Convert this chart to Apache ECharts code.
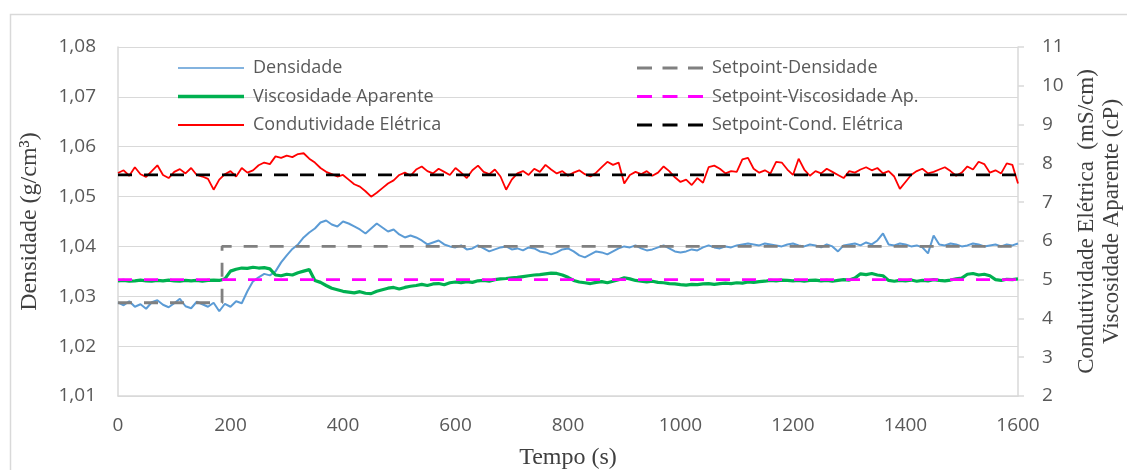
<!DOCTYPE html>
<html>
<head>
<meta charset="utf-8">
<script src="https://cdn.jsdelivr.net/npm/echarts@6/dist/echarts.min.js"></script>
<style>
html,body{margin:0;padding:0;background:#fff;width:100%;height:100%;overflow:hidden;}
#chart{width:1127px;height:470px;position:absolute;left:0;top:0;}
</style>
</head>
<body>
<div id="chart"></div>
<script>
// sampling step (s) of the recorded series
const timeStep = 10;

const densidade = [
1.0288,1.0282,1.0290,1.0279,1.0284,1.0275,1.0288,1.0292,1.0283,1.0278,
1.0286,1.0295,1.0280,1.0276,1.0289,1.0284,1.0279,1.0287,1.0270,1.0285,
1.0279,1.0290,1.0286,1.0310,1.0330,1.0338,1.0345,1.0342,1.0350,1.0368,
1.0382,1.0395,1.0404,1.0418,1.0428,1.0436,1.0448,1.0452,1.0444,1.0440,
1.0450,1.0446,1.0440,1.0434,1.0426,1.0436,1.0446,1.0438,1.0430,1.0434,
1.0424,1.0418,1.0422,1.0418,1.0412,1.0404,1.0408,1.0412,1.0404,1.0400,
1.0398,1.0402,1.0394,1.0396,1.0402,1.0396,1.0390,1.0394,1.0398,1.0400,
1.0394,1.0396,1.0392,1.0398,1.0396,1.0390,1.0388,1.0384,1.0388,1.0394,
1.0396,1.0390,1.0382,1.0378,1.0384,1.0390,1.0388,1.0384,1.0390,1.0396,
1.0400,1.0398,1.0402,1.0396,1.0392,1.0394,1.0398,1.0402,1.0396,1.0390,
1.0388,1.0390,1.0394,1.0392,1.0398,1.0402,1.0398,1.0396,1.0400,1.0398,
1.0402,1.0404,1.0406,1.0404,1.0402,1.0406,1.0404,1.0402,1.0400,1.0404,
1.0406,1.0402,1.0400,1.0404,1.0402,1.0398,1.0404,1.0400,1.0390,1.0402,
1.0404,1.0406,1.0402,1.0408,1.0404,1.0412,1.0426,1.0404,1.0402,1.0406,
1.0404,1.0400,1.0402,1.0398,1.0386,1.0422,1.0404,1.0402,1.0406,1.0404,
1.0400,1.0402,1.0406,1.0404,1.0400,1.0402,1.0404,1.0400,1.0404,1.0402,
1.0406
];

const viscosidade = [
4.97,4.98,4.96,4.97,4.99,4.97,4.96,4.98,4.97,4.99,
4.97,4.96,4.98,4.97,4.98,4.96,4.98,4.99,4.98,5.02,
5.22,5.27,5.30,5.29,5.32,5.30,5.31,5.28,5.12,5.10,
5.14,5.12,5.18,5.22,5.26,4.98,4.93,4.85,4.78,4.74,
4.70,4.68,4.66,4.69,4.65,4.64,4.70,4.74,4.78,4.80,
4.76,4.80,4.83,4.85,4.88,4.85,4.89,4.90,4.87,4.92,
4.94,4.92,4.95,4.93,4.97,4.98,4.96,5.00,5.02,5.03,
5.05,5.06,5.08,5.10,5.12,5.13,5.15,5.17,5.16,5.12,
5.06,4.98,4.94,4.92,4.90,4.93,4.95,4.92,4.96,5.00,
5.05,5.02,4.98,4.96,4.94,4.96,4.93,4.92,4.90,4.89,
4.87,4.86,4.88,4.87,4.89,4.90,4.88,4.90,4.91,4.90,
4.92,4.91,4.94,4.93,4.95,4.96,4.98,4.97,4.99,4.98,
4.97,4.98,4.96,4.98,4.99,4.97,4.98,4.96,4.98,5.00,
4.99,5.04,5.15,5.13,5.16,5.12,5.10,4.98,4.96,4.98,
4.97,4.99,4.96,4.98,4.97,5.00,4.98,4.97,4.99,5.02,
5.04,5.14,5.16,5.12,5.14,5.10,5.00,4.98,5.01,5.00,
5.02
];

const condutividade = [
7.75,7.82,7.68,7.90,7.72,7.65,7.80,7.95,7.70,7.62,
7.78,7.85,7.74,7.88,7.70,7.66,7.60,7.32,7.58,7.72,
7.80,7.66,7.88,7.76,7.82,7.95,8.02,7.98,8.18,8.14,
8.20,8.16,8.24,8.26,8.12,8.02,7.88,7.78,7.72,7.66,
7.70,7.58,7.46,7.40,7.28,7.14,7.24,7.36,7.48,7.56,
7.70,7.76,7.68,7.84,7.92,7.80,7.74,7.86,7.78,7.70,
7.88,7.76,7.62,7.82,7.94,7.78,7.72,7.84,7.66,7.32,
7.58,7.74,7.80,7.70,7.86,7.78,7.96,7.84,7.74,7.80,
7.68,7.76,7.82,7.72,7.66,7.76,7.90,8.04,7.96,8.02,
7.48,7.70,7.78,7.72,7.80,7.68,7.76,7.92,7.80,7.64,
7.52,7.58,7.44,7.62,7.50,7.90,7.94,7.86,7.74,7.80,
7.78,8.10,8.14,7.86,7.76,7.82,7.74,8.04,8.02,7.84,
7.70,8.12,7.84,7.68,7.80,7.74,7.86,7.78,7.70,7.62,
7.80,7.76,7.84,7.90,7.82,7.88,7.74,7.80,7.66,7.34,
7.52,7.70,7.80,7.86,7.74,7.78,7.84,7.90,7.80,7.68,
7.76,7.92,7.84,8.04,7.98,7.76,7.82,7.74,8.00,7.96,
7.48
];

// setpoints
const spDensTime = [0, 185, 185, 1600];
const spDensVal = [1.0287, 1.0287, 1.0400, 1.0400];
const spViscTime = [0, 1600];
const spViscVal = [5.0, 5.0];
const spCondTime = [0, 1600];
const spCondVal = [7.7, 7.7];

const xTicks = {min: 0, max: 1600, interval: 200};
const yLeft = {min: 1.01, max: 1.08, interval: 0.01};
const yRight = {min: 2, max: 11, interval: 1};

function pairs(vals) { return vals.map((v, i) => [i * timeStep, v]); }
function zip(ts, vs) { return ts.map((t, i) => [t, vs[i]]); }

const lblColor = '#595959';
const sansFont = 'Open Sans';
const serifFont = 'Liberation Serif';

// legend icons: 66x4 box (tiny slivers fix the bounding box so thickness is preserved)
const box = ' M0,0h0.01v4h-0.01z M65.99,0h0.01v4h-0.01z';
const thinIcon = 'path://M0,1.2h66v1.6h-66z' + box;
const thickIcon = 'path://M0,0.3h66v3.4h-66z' + box;
const midIcon = 'path://M0,1h66v2h-66z' + box;
const dashIcon = 'path://M0,0.5h15v3h-15z M25.5,0.5h15v3h-15z M51,0.5h15v3h-15z' + box;
const legendText = {fontFamily: sansFont, fontSize: 18, color: lblColor, padding: [0, 0, 0, 4], lineHeight: 20};

const chart = echarts.init(document.getElementById('chart'), null, {renderer: 'canvas', width: 1127, height: 470});
chart.setOption({
  backgroundColor: '#fff',
  animation: false,
  graphic: [{
    type: 'rect', left: 8, top: 12, shape: {width: 1130, height: 470},
    style: {fill: 'none', stroke: '#d9d9d9', lineWidth: 1.5}, silent: true
  }],
  grid: {left: 118, right: 109, top: 47, bottom: 74, containLabel: false, outerBoundsMode: 'none'},
  legend: [{
    data: [
      {name: 'Densidade', icon: thinIcon},
      {name: 'Viscosidade Aparente', icon: thickIcon},
      {name: 'Condutividade Elétrica', icon: midIcon}
    ],
    orient: 'vertical', left: 173, top: 53, itemWidth: 66, itemHeight: 4, itemGap: 8.5,
    symbolKeepAspect: false,
    textStyle: legendText
  }, {
    data: [
      {name: 'Setpoint-Densidade', icon: dashIcon},
      {name: 'Setpoint-Viscosidade Ap.', icon: dashIcon},
      {name: 'Setpoint-Cond. Elétrica', icon: dashIcon}
    ],
    orient: 'vertical', left: 632, top: 53, itemWidth: 66, itemHeight: 4, itemGap: 8.5,
    symbolKeepAspect: false,
    textStyle: legendText
  }],
  xAxis: {
    type: 'value', min: xTicks.min, max: xTicks.max, interval: xTicks.interval,
    name: 'Tempo (s)', nameLocation: 'middle', nameGap: 50,
    nameTextStyle: {fontFamily: serifFont, fontSize: 24, color: '#404040'},
    axisLine: {show: true, lineStyle: {color: '#d9d9d9', width: 1.5}},
    axisTick: {show: false},
    splitLine: {show: false},
    axisLabel: {fontFamily: sansFont, fontSize: 19, color: lblColor, margin: 20,
      formatter: v => String(v)}
  },
  yAxis: [{
    type: 'value', min: yLeft.min, max: yLeft.max, interval: yLeft.interval,
    position: 'left',
    name: 'Densidade (g/cm³)', nameLocation: 'middle', nameGap: 76, nameRotate: 90,
    nameTextStyle: {fontFamily: serifFont, fontSize: 24, color: '#404040'},
    axisLine: {show: true, lineStyle: {color: '#d9d9d9', width: 1.5}},
    axisTick: {show: false},
    splitLine: {show: true, lineStyle: {color: '#d9d9d9', width: 1.2}},
    axisLabel: {fontFamily: sansFont, fontSize: 19, color: lblColor, margin: 22,
      formatter: v => v.toFixed(2).replace('.', ',')}
  }, {
    type: 'value', min: yRight.min, max: yRight.max, interval: yRight.interval,
    position: 'right',
    name: 'Condutividade Elétrica  (mS/cm)\nViscosidade Aparente (cP)',
    nameLocation: 'middle', nameGap: 56, nameRotate: 90,
    nameTextStyle: {fontFamily: serifFont, fontSize: 23, color: '#404040', lineHeight: 25, align: 'center'},
    axisLine: {show: true, lineStyle: {color: '#d9d9d9', width: 1.5}},
    axisTick: {show: true, inside: false, length: 6, lineStyle: {color: '#d9d9d9', width: 1.5}},
    splitLine: {show: false},
    axisLabel: {fontFamily: sansFont, fontSize: 19, color: lblColor, margin: 24}
  }],
  series: [{
    name: 'Densidade', type: 'line', yAxisIndex: 0, showSymbol: false, symbol: 'none',
    data: pairs(densidade), lineStyle: {color: '#5b9bd5', width: 2}, itemStyle: {color: '#5b9bd5'}
  }, {
    name: 'Viscosidade Aparente', type: 'line', yAxisIndex: 1, showSymbol: false, symbol: 'none',
    data: pairs(viscosidade), lineStyle: {color: '#00b050', width: 3.2}, itemStyle: {color: '#00b050'}
  }, {
    name: 'Condutividade Elétrica', type: 'line', yAxisIndex: 1, showSymbol: false, symbol: 'none',
    data: pairs(condutividade), lineStyle: {color: '#ff0000', width: 1.8}, itemStyle: {color: '#ff0000'}
  }, {
    name: 'Setpoint-Densidade', type: 'line', yAxisIndex: 0, showSymbol: false, symbol: 'none',
    data: zip(spDensTime, spDensVal), lineStyle: {color: '#808080', width: 2.8, type: [14, 12]}, itemStyle: {color: '#808080'}
  }, {
    name: 'Setpoint-Viscosidade Ap.', type: 'line', yAxisIndex: 1, showSymbol: false, symbol: 'none',
    data: zip(spViscTime, spViscVal), lineStyle: {color: '#ff00ff', width: 2.8, type: [14, 12]}, itemStyle: {color: '#ff00ff'}
  }, {
    name: 'Setpoint-Cond. Elétrica', type: 'line', yAxisIndex: 1, showSymbol: false, symbol: 'none',
    data: zip(spCondTime, spCondVal), lineStyle: {color: '#000000', width: 2.8, type: [14, 12]}, itemStyle: {color: '#000000'}
  }]
});
</script>
</body>
</html>
